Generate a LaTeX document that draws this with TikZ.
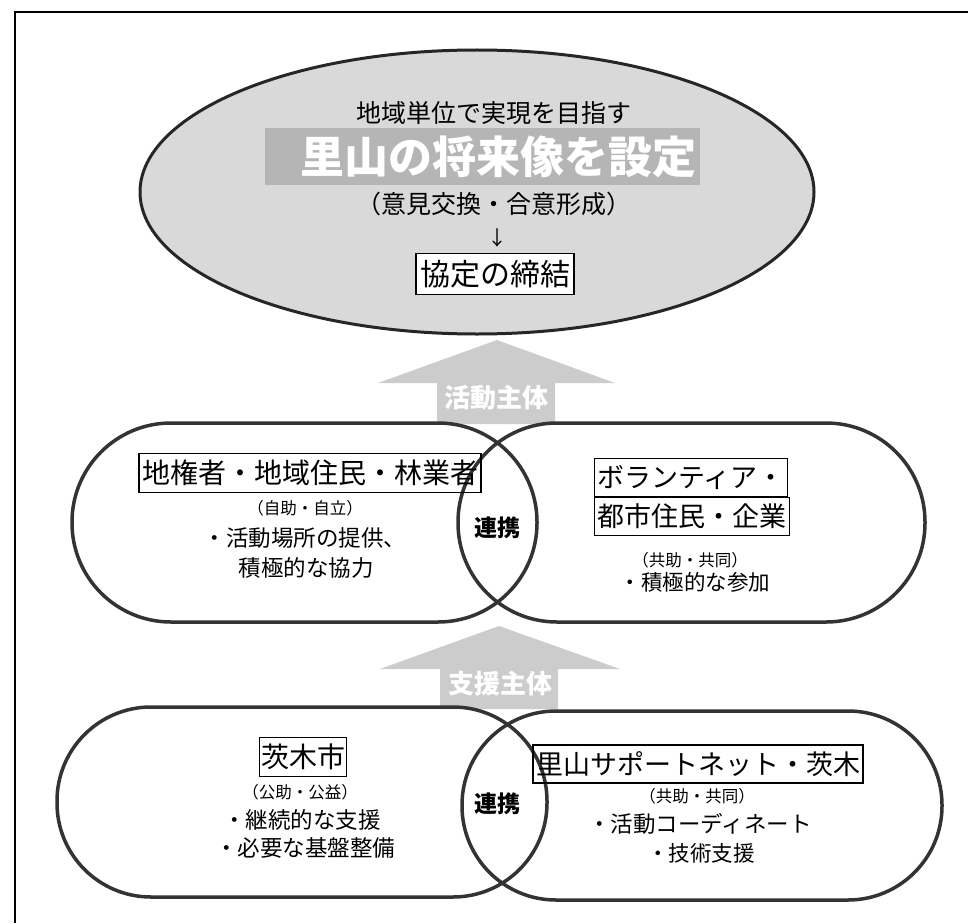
\documentclass[tikz,border=0pt]{standalone}
\usepackage{fontspec}
\usetikzlibrary{shapes.geometric}
\newfontfamily\jp{Noto Sans CJK JP}
\newcommand\myfs[1]{\fontsize{#1pt}{#1pt}\selectfont}
\newcommand\cjkstrut{\rule[-0.12em]{0pt}{1em}}
\begin{document}
\begin{tikzpicture}[x=1pt,y=-1pt,
  outl/.style={line width=3.5pt, draw=black!80},
  txt/.style={inner sep=0pt, text=black},
  boxed/.style={draw=black, line width=1.1pt, inner xsep=3pt, inner ysep=5.5pt},
  blockarrow/.style={fill=gray!40},
  arrowlab/.style={inner sep=0pt, text=white, font={\jp\bfseries\myfs{26}}},
  sub/.style={txt, font={\jp\myfs{16.5}}},
  body/.style={txt, font={\jp\myfs{22.5}}},
  link/.style={txt, font={\jp\bfseries\myfs{23}}}]
\useasboundingbox (0,0) rectangle (968,923);
% frame
\draw[line width=1.5pt] (15,923) -- (15,12) -- (968,12);
% goal ellipse
\node[ellipse, draw=black!85, line width=3pt, fill=gray!30, minimum width=674pt, minimum height=284pt, inner sep=0pt] (goal) at (477,192) {};
\fill[gray!58] (265,128) rectangle (700,185);
\node[txt, font={\jp\myfs{25}}] (t1) at (494,113) {地域単位で実現を目指す};
\node[txt, text=white, font={\jp\bfseries\myfs{44}}] (t2) at (498,157) {里山の将来像を設定};
\node[txt, font={\jp\myfs{25}}] (t3) at (494,204) {（意見交換・合意形成）};
\node[txt, font={\jp\myfs{20}}] (t4) at (497,238) {↓};
\node[boxed, fill=white, font={\jp\myfs{30}}, inner xsep=4pt] (t5) at (495,274) {\cjkstrut 協定の締結};
% block arrows
\fill[blockarrow] (497,340) -- (615,383) -- (555,383) -- (555,424) -- (437,424) -- (437,383) -- (378,383) -- cycle;
\node[arrowlab] (a1) at (496,398) {活動主体};
\fill[blockarrow] (499,626) -- (620,669) -- (558,669) -- (558,709) -- (440,709) -- (440,669) -- (380,669) -- cycle;
\node[arrowlab] (a2) at (500,684) {支援主体};
% middle stadiums
\draw[outl, rounded corners=99pt] (72,423) rectangle (537,622);
\draw[outl, rounded corners=99pt] (458,423) rectangle (925,622);
% bottom stadiums
\draw[outl, rounded corners=94pt] (57,707) rectangle (547,897);
\draw[outl, rounded corners=94pt] (462,711) rectangle (942,900);
% middle left texts
\node[boxed, font={\jp\myfs{28}}] (ml1) at (310,473) {\cjkstrut 地権者・地域住民・林業者};
\node[sub] (ml2) at (305,508) {（自助・自立）};
\node[body] (ml3) at (305,538) {・活動場所の提供、};
\node[body] (ml4) at (306,568) {積極的な協力};
\node[link] (lk1) at (497,528) {連携};
% middle right texts
\node[boxed, font={\jp\myfs{27}}, anchor=north west] (mr1) at (594,458) {\cjkstrut ボランティア・};
\node[boxed, font={\jp\myfs{27}}, anchor=north west] (mr2) at (mr1.south west) {\cjkstrut 都市住民・企業};
\node[sub] (mr3) at (690,560) {（共助・共同）};
\node[body, font={\jp\myfs{21.5}}] (mr4) at (695,582) {・積極的な参加};
% bottom left texts
\node[boxed, font={\jp\myfs{28}}, inner xsep=1.5pt] (bl1) at (303,757) {\cjkstrut 茨木市};
\node[sub] (bl2) at (300,792) {（公助・公益）};
\node[body] (bl3) at (302,820) {・継続的な支援};
\node[body] (bl4) at (305,848) {・必要な基盤整備};
\node[link] (lk2) at (497,804) {連携};
% bottom right texts
\node[boxed, font={\jp\myfs{27}}] (br1) at (698,764) {\cjkstrut 里山サポートネット・茨木};
\node[sub] (br2) at (697,796) {（共助・共同）};
\node[body] (br3) at (700,824) {・活動コーディネート};
\node[body, font={\jp\myfs{21.5}}] (br4) at (701,853) {・技術支援};
\end{tikzpicture}
\end{document}
